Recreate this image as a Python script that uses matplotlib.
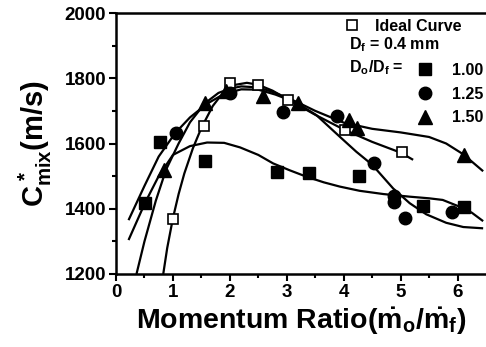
import numpy as np
import matplotlib.pyplot as plt
from matplotlib.lines import Line2D

plt.rcParams['font.family'] = ['Liberation Sans', 'DejaVu Sans']
plt.rcParams['font.weight'] = 'bold'
plt.rcParams['mathtext.fontset'] = 'custom'
plt.rcParams['mathtext.rm'] = 'Liberation Sans:bold'
plt.rcParams['mathtext.it'] = 'Liberation Sans:bold'
plt.rcParams['mathtext.bf'] = 'Liberation Sans:bold'

# measured points
ideal_x = [1.0, 1.55, 2.0, 2.5, 3.02, 4.02, 5.02]
ideal_y = [1370, 1655, 1785, 1778, 1733, 1642, 1574]
sq_x = [0.51, 0.77, 1.56, 2.82, 3.39, 4.27, 5.39, 6.12]
sq_y = [1418, 1605, 1547, 1513, 1510, 1500, 1409, 1406]
ci_x = [1.05, 2.0, 2.93, 3.88, 4.54, 4.88, 4.88, 5.07, 5.9]
ci_y = [1632, 1755, 1697, 1685, 1540, 1440, 1421, 1372, 1390]
tr_x = [0.85, 1.56, 1.93, 2.58, 3.2, 4.09, 4.24, 6.12]
tr_y = [1520, 1723, 1762, 1745, 1723, 1672, 1647, 1565]

# fitted curves
ideal_cx = [0.83, 0.9, 1.0, 1.1, 1.2, 1.35, 1.5, 1.7, 1.9, 2.1, 2.3, 2.5, 2.75, 3.0, 3.5, 4.0, 4.5, 5.0, 5.22]
ideal_cy = [1200, 1280, 1371, 1445, 1508, 1585, 1648, 1715, 1760, 1780, 1786, 1780, 1762, 1737, 1688, 1643, 1605, 1572, 1550]
sq_cx = [0.22, 0.51, 0.75, 1.0, 1.3, 1.6, 1.9, 2.18, 2.5, 2.76, 3.05, 3.35, 3.65, 3.93, 4.28, 4.7, 5.16, 5.5, 5.74, 6.04, 6.25, 6.45]
sq_cy = [1304, 1418, 1500, 1565, 1592, 1603, 1602, 1588, 1565, 1539, 1518, 1498, 1481, 1468, 1455, 1445, 1437, 1432, 1427, 1406, 1388, 1362]
ci_cx = [0.22, 0.5, 0.75, 1.04, 1.3, 1.6, 1.9, 2.2, 2.5, 2.8, 3.17, 3.52, 3.93, 4.22, 4.5, 4.87, 5.16, 5.45, 5.8, 6.1, 6.45]
ci_cy = [1365, 1470, 1560, 1632, 1680, 1722, 1752, 1766, 1765, 1750, 1725, 1687, 1621, 1575, 1535, 1462, 1417, 1383, 1357, 1344, 1340]
tr_cx = [0.36, 0.5, 0.7, 0.88, 1.1, 1.3, 1.56, 1.8, 2.0, 2.2, 2.5, 2.8, 3.17, 3.5, 4.0, 4.5, 5.0, 5.5, 5.8, 6.1, 6.45]
tr_cy = [1200, 1300, 1425, 1520, 1600, 1665, 1723, 1755, 1768, 1775, 1772, 1755, 1728, 1700, 1664, 1645, 1634, 1620, 1600, 1567, 1515]

fig = plt.figure(figsize=(4.86, 3.47), dpi=100)
ax = fig.add_axes([116/486, 73/347, 370/486, 261/347])

for cx, cy in [(ideal_cx, ideal_cy), (sq_cx, sq_cy), (ci_cx, ci_cy), (tr_cx, tr_cy)]:
    ax.plot(cx, cy, 'k-', lw=1.6, solid_capstyle='butt')

ax.plot(ideal_x, ideal_y, 's', ms=7.5, mfc='white', mec='k', mew=1.2, ls='none')
ax.plot(sq_x, sq_y, 's', ms=8.5, color='k', ls='none')
ax.plot(ci_x, ci_y, 'o', ms=9, color='k', ls='none')
ax.plot(tr_x, tr_y, '^', ms=9.5, color='k', ls='none')

ax.set_xlim(0, 6.5)
ax.set_ylim(1200, 2000)
ax.set_xticks([0, 1, 2, 3, 4, 5, 6])
ax.set_xticks(np.arange(0.5, 6.5, 1.0), minor=True)
ax.set_yticks([1200, 1400, 1600, 1800, 2000])
ax.set_yticks([1300, 1500, 1700, 1900], minor=True)
ax.tick_params(which='major', direction='out', length=5, width=1.5, labelsize=13.5, pad=2)
ax.tick_params(which='minor', direction='out', length=3, width=1.5)
for s in ['left', 'bottom', 'top']:
    ax.spines[s].set_linewidth(1.8)
ax.spines['right'].set_visible(False)

ax.set_xlabel(r'Momentum Ratio($\dot{m}_o/\dot{m}_f$)', fontsize=20.5, fontweight='bold', labelpad=4)
ax.set_ylabel(r'$C^*_{mix}$(m/s)', fontsize=21, fontweight='bold', labelpad=8)

# legend
h1 = [Line2D([], [], marker='s', ms=7.5, mfc='white', mec='k', mew=1.2, ls='none')]
leg1 = ax.legend(h1, ['Ideal Curve'], loc='center left', bbox_to_anchor=(0.6, 0.948),
                 frameon=False, fontsize=11.5, handlelength=0.8, handletextpad=1.0,
                 borderpad=0.0)
ax.add_artist(leg1)
h2 = [Line2D([], [], marker='s', ms=8.5, color='k', ls='none'),
      Line2D([], [], marker='o', ms=9, color='k', ls='none'),
      Line2D([], [], marker='^', ms=9.5, color='k', ls='none')]
ax.legend(h2, ['1.00', '1.25', '1.50'], loc='upper left', bbox_to_anchor=(0.795, 0.84),
          frameon=False, fontsize=11.5, handlelength=0.8, handletextpad=1.3,
          labelspacing=0.55, borderpad=0.0)
ax.text(0.63, 0.877, r'D$_f$ = 0.4 mm', transform=ax.transAxes, fontsize=11.5, va='center')
ax.text(0.63, 0.789, r'D$_o$/D$_f$ =', transform=ax.transAxes, fontsize=11.5, va='center')

fig.savefig('out.png', dpi=100)
